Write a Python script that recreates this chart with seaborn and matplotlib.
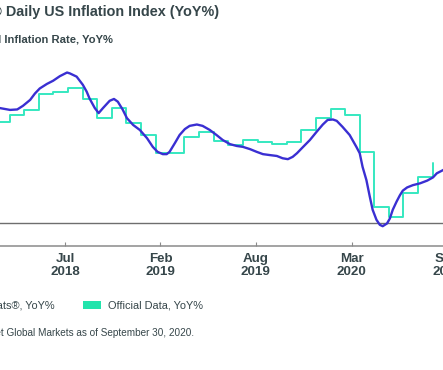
import matplotlib
import numpy as np
import pandas as pd

matplotlib.use("Agg")
import matplotlib.pyplot as plt
import matplotlib.dates as mdates
from matplotlib.patches import Rectangle
import seaborn as sns

# Official CPI, YoY% (value shown from the end of each month)
official_dates = [
    "2018-01-31", "2018-02-28", "2018-03-31", "2018-04-30", "2018-05-31", "2018-06-30",
    "2018-07-31", "2018-08-31", "2018-09-30", "2018-10-31", "2018-11-30", "2018-12-31",
    "2019-01-31", "2019-02-28", "2019-03-31", "2019-04-30", "2019-05-31", "2019-06-30",
    "2019-07-31", "2019-08-31", "2019-09-30", "2019-10-31", "2019-11-30", "2019-12-31",
    "2020-01-31", "2020-02-29", "2020-03-31", "2020-04-30", "2020-05-31", "2020-06-30",
    "2020-07-31", "2020-08-31",
]
official_values = [
    2.10, 2.22, 2.37, 2.48, 2.82, 2.87,
    2.95, 2.72, 2.30, 2.53, 2.20, 1.93,
    1.54, 1.54, 1.88, 2.00, 1.80, 1.71,
    1.82, 1.77, 1.73, 1.78, 2.05, 2.30,
    2.50, 2.37, 1.56, 0.34, 0.13, 0.65,
    1.00, 1.32,
]

# PriceStats daily index, YoY%
pricestats_dates = [
    "2018-03-01", "2018-03-11", "2018-04-01", "2018-04-16", "2018-04-28", "2018-05-13",
    "2018-05-23", "2018-06-02", "2018-06-17", "2018-06-30", "2018-07-14", "2018-07-29",
    "2018-08-04", "2018-08-18", "2018-08-31", "2018-09-08", "2018-09-14", "2018-09-25",
    "2018-10-03", "2018-10-12", "2018-10-26", "2018-11-04", "2018-11-12", "2018-11-22",
    "2018-12-01", "2018-12-14", "2018-12-28", "2019-01-12", "2019-01-24", "2019-02-03",
    "2019-02-14", "2019-02-22", "2019-02-28", "2019-03-11", "2019-03-21", "2019-04-01",
    "2019-04-11", "2019-04-26", "2019-05-08", "2019-05-23", "2019-06-06", "2019-06-19",
    "2019-07-04", "2019-07-18", "2019-07-31", "2019-08-15", "2019-08-29", "2019-09-11",
    "2019-09-25", "2019-10-10", "2019-10-22", "2019-11-02", "2019-11-12", "2019-11-21",
    "2019-12-03", "2019-12-18", "2020-01-01", "2020-01-14", "2020-01-24", "2020-02-04",
    "2020-02-12", "2020-02-24", "2020-03-10", "2020-03-24", "2020-03-31", "2020-04-06",
    "2020-04-14", "2020-04-21", "2020-04-27", "2020-05-05", "2020-05-12", "2020-05-18",
    "2020-05-27", "2020-06-02", "2020-06-08", "2020-06-16", "2020-06-23", "2020-06-29",
    "2020-07-08", "2020-07-20", "2020-08-04", "2020-08-19", "2020-08-31", "2020-09-08",
    "2020-09-21", "2020-09-30",
]
pricestats_values = [
    2.55, 2.52, 2.48, 2.49, 2.57, 2.70,
    2.84, 2.95, 3.05, 3.12, 3.22, 3.30,
    3.28, 3.21, 3.03, 2.88, 2.73, 2.52,
    2.41, 2.52, 2.68, 2.72, 2.66, 2.49,
    2.30, 2.15, 2.04, 1.86, 1.67, 1.56,
    1.51, 1.51, 1.56, 1.75, 1.93, 2.06,
    2.13, 2.16, 2.13, 2.04, 1.93, 1.82,
    1.73, 1.69, 1.67, 1.62, 1.56, 1.51,
    1.49, 1.47, 1.42, 1.40, 1.45, 1.53,
    1.66, 1.82, 2.00, 2.16, 2.26, 2.27,
    2.24, 2.11, 1.93, 1.67, 1.53, 1.23,
    0.94, 0.58, 0.29, 0.07, -0.04, -0.07,
    -0.01, 0.10, 0.29, 0.47, 0.61, 0.71,
    0.78, 0.83, 0.87, 0.93, 1.00, 1.09,
    1.16, 1.22,
]

tick_dates = ["2018-07-25", "2019-02-09", "2019-08-27", "2020-03-14", "2020-09-29"]
tick_labels = ["Jul\n2018", "Feb\n2019", "Aug\n2019", "Mar\n2020", "Sep\n2020"]

BLUE = "#3a2fd2"
GREEN = "#35e8c0"
TEXT = "#36464a"

official = pd.DataFrame({"date": pd.to_datetime(official_dates), "value": official_values})
pricestats = pd.DataFrame({"date": pd.to_datetime(pricestats_dates), "value": pricestats_values})

sns.set_theme(style="white")
plt.rcParams["font.family"] = ["Liberation Sans", "DejaVu Sans"]

W, H = 443, 370
fig = plt.figure(figsize=(W / 100, H / 100), dpi=100)
fig.patch.set_facecolor("white")

# axes is wider than the figure, the picture is a crop of a bigger chart
left_px, right_px = -110, 560
bottom_px, top_px = 124, 315
ax = fig.add_axes([left_px / W, bottom_px / H, (right_px - left_px) / W, (top_px - bottom_px) / H])

px_per_day = 0.479
anchor = mdates.date2num(pd.Timestamp("2018-07-31"))
anchor_px = 68
ax.set_xlim(anchor - (anchor_px - left_px) / px_per_day, anchor + (right_px - anchor_px) / px_per_day)

zero_px = 147
px_per_pct = 45.6
ax.set_ylim(-(zero_px - bottom_px) / px_per_pct, (top_px - zero_px) / px_per_pct)

ax.axhline(0, color="#6e6e6e", lw=1.0, zorder=1)

sns.lineplot(data=official, x="date", y="value", ax=ax, color=GREEN, lw=1.4,
             drawstyle="steps-post", zorder=2)
sns.lineplot(data=pricestats, x="date", y="value", ax=ax, color=BLUE, lw=1.7, zorder=3)

ax.set_xlabel("")
ax.set_ylabel("")
ax.set_yticks([])
ax.set_xticks(pd.to_datetime(tick_dates))
ax.set_xticklabels(tick_labels, fontsize=9.6, fontweight="bold", color=TEXT, linespacing=1.1)
ax.tick_params(axis="x", direction="in", length=3, width=0.8, color="#8a8a8a", pad=5, bottom=True)

for side in ["top", "left", "right"]:
    ax.spines[side].set_visible(False)
ax.spines["bottom"].set_color("#8a8a8a")
ax.spines["bottom"].set_linewidth(1.1)


def fx(px):
    return px / W


def fy(py):
    return 1 - py / H


fig.text(fx(219), fy(12), "PriceStats\u00ae Daily US Inflation Index (YoY%)", ha="right", va="center",
         fontsize=10.4, fontweight="bold", color=TEXT)
fig.text(fx(113), fy(40), "Annual Inflation Rate, YoY%", ha="right", va="center",
         fontsize=8.1, fontweight="bold", color=TEXT)

# legend
fig.patches.append(Rectangle((fx(-60), fy(309)), 18 / W, 8 / H, transform=fig.transFigure,
                             facecolor=BLUE, edgecolor="none"))
fig.text(fx(55), fy(305), "PriceStats\u00ae, YoY%", ha="right", va="center", fontsize=7.9, color=TEXT)
fig.patches.append(Rectangle((fx(83), fy(309)), 18 / W, 8 / H, transform=fig.transFigure,
                             facecolor="#22e4ac", edgecolor="none"))
fig.text(fx(108), fy(305), "Official Data, YoY%", ha="left", va="center", fontsize=7.9, color=TEXT)

fig.text(fx(194), fy(333), "Source: State Street Global Markets as of September 30, 2020.",
         ha="right", va="center", fontsize=7.2, color=TEXT)

fig.savefig("out.png", dpi=100)
